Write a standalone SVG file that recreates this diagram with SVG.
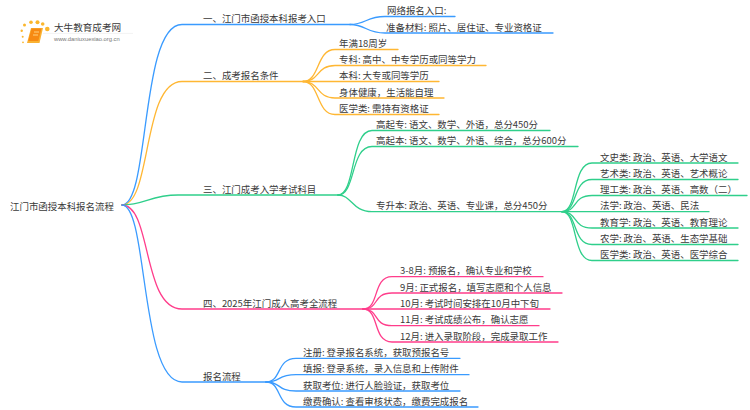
<svg xmlns="http://www.w3.org/2000/svg" width="750" height="410" viewBox="0 0 750 410">
<style>
text{font-family:"Noto Sans CJK SC","Liberation Sans",sans-serif;font-size:9.45px;fill:#3a3a3a}
.c{fill:none;stroke-width:1.3;stroke-linecap:round}
.b{stroke:#3a9bff}.o{stroke:#ffb733}.g{stroke:#2fcf8b}.p{stroke:#ff3d8b}
.s{fill:#fbb62c}
</style>
<rect width="750" height="410" fill="#fff"/>
<g id="logo">
<g class="s"><circle cx="21.700" cy="30.700" r="1.200"/><circle cx="24.500" cy="25" r="1.500"/><circle cx="31" cy="22.300" r="1.800"/><circle cx="37.500" cy="22.300" r="2"/><circle cx="42.700" cy="24" r="1.800"/><circle cx="47.300" cy="29" r="2.300"/><circle cx="22.700" cy="36.700" r="1"/><circle cx="23" cy="42.300" r="0.900"/></g>
<path d="M31 28h12l-3.500 15h-12.500z" fill="#f9b233"/><path d="M31.500 28.500h10l-3.200 12.500h-10z" fill="#f78a12"/><path d="M34 32h5M33 35h5" stroke="#ffd98a" stroke-width="0.900" fill="none"/>
<line x1="43" y1="33.400" x2="133" y2="33.400" stroke="#eeeeee" stroke-width="0.700"/>
<text x="54" y="31" style="font-size:9.6px">大牛教育成考网</text>
<text x="54" y="40.800" style="font-size:5.800px;fill:#777;font-family:'Liberation Sans',sans-serif">www.daniuxuexiao.org.cn</text>
</g>
<g id="connectors">
<path class="c b" d="M122 205C150 205 140 24.500 182 24.500L350 24.500"/>
<path class="c o" d="M122 205C152 205 142 81.500 182 81.500L303 81.500"/>
<path class="c g" d="M122 205C145 205 150 195 178 195L338 195"/>
<path class="c p" d="M122 205C152 205 142 309 182 309L363 309"/>
<path class="c b" d="M122 205C148 205 140 382 182 382L266 382"/>
<path class="c b" d="M350 24.500C366 24.500 366 16.500 385 16.500L455 16.500"/>
<path class="c b" d="M350 24.500C366 24.500 366 33 385 33L553 33"/>
<path class="c o" d="M303 81.500C320 81.500 316 49.500 335 49.500L398 49.500"/>
<path class="c o" d="M303 81.500C320 81.500 316 65.500 335 65.500L486 65.500"/>
<path class="c o" d="M303 81.500L439 81.500"/>
<path class="c o" d="M303 81.500C320 81.500 316 98 335 98L444 98"/>
<path class="c o" d="M303 81.500C320 81.500 316 114.500 335 114.500L439 114.500"/>
<path class="c g" d="M338 195C356 195 350 130.500 372 130.500L550 130.500"/>
<path class="c g" d="M338 195C356 195 350 146.500 372 146.500L578 146.500"/>
<path class="c g" d="M338 195C352 195 352 211.700 372 211.700L562 211.700"/>
<path class="c g" d="M562 211.700C578 211.700 572 163 592 163L738 163"/>
<path class="c g" d="M562 211.700C578 211.700 572 179.500 592 179.500L738 179.500"/>
<path class="c g" d="M562 211.700C578 211.700 572 195.500 592 195.500L747 195.500"/>
<path class="c g" d="M562 211.700L709 211.700"/>
<path class="c g" d="M562 211.700C578 211.700 572 228 592 228L738 228"/>
<path class="c g" d="M562 211.700C578 211.700 572 244.500 592 244.500L738 244.500"/>
<path class="c g" d="M562 211.700C578 211.700 572 260.500 592 260.500L738 260.500"/>
<path class="c p" d="M363 309C380 309 372 276.700 392 276.700L543 276.700"/>
<path class="c p" d="M363 309C380 309 372 293 392 293L562 293"/>
<path class="c p" d="M363 309L550 309"/>
<path class="c p" d="M363 309C380 309 372 325.700 392 325.700L539 325.700"/>
<path class="c p" d="M363 309C380 309 372 342 392 342L558 342"/>
<path class="c b" d="M266 382C282 382 276 358.300 296 358.300L460 358.300"/>
<path class="c b" d="M266 382C282 382 276 374.700 296 374.700L469 374.700"/>
<path class="c b" d="M266 382C282 382 276 391 296 391L460 391"/>
<path class="c b" d="M266 382C282 382 276 407 296 407L478 407"/>
</g>
<g id="root"><text x="10" y="209.500">江门市函授本科报名流程</text></g>
<g id="n1"><text x="203" y="22">一、江门市函授本科报考入口</text></g>
<g id="n1-1"><text x="387" y="14">网络报名入口:</text></g>
<g id="n1-2"><text x="386" y="30.500">准备材料: 照片、居住证、专业资格证</text></g>
<g id="n2"><text x="203" y="79">二、成考报名条件</text></g>
<g id="n2-1"><text x="339" y="47">年满18周岁</text></g>
<g id="n2-2"><text x="339" y="63">专科: 高中、中专学历或同等学力</text></g>
<g id="n2-3"><text x="339" y="79">本科: 大专或同等学历</text></g>
<g id="n2-4"><text x="339" y="95.500">身体健康，生活能自理</text></g>
<g id="n2-5"><text x="339" y="112">医学类: 需持有资格证</text></g>
<g id="n3"><text x="203" y="192.500">三、江门成考入学考试科目</text></g>
<g id="n3-1"><text x="376" y="128">高起专: 语文、数学、外语，总分450分</text></g>
<g id="n3-2"><text x="376" y="144">高起本: 语文、数学、外语、综合，总分600分</text></g>
<g id="n3-3"><text x="376" y="209.200">专升本: 政治、英语、专业课，总分450分</text></g>
<g id="n3-3-1"><text x="600" y="160.500">文史类: 政治、英语、大学语文</text></g>
<g id="n3-3-2"><text x="600" y="177">艺术类: 政治、英语、艺术概论</text></g>
<g id="n3-3-3"><text x="600" y="193">理工类: 政治、英语、高数（二）</text></g>
<g id="n3-3-4"><text x="600" y="209.200">法学: 政治、英语、民法</text></g>
<g id="n3-3-5"><text x="600" y="225.500">教育学: 政治、英语、教育理论</text></g>
<g id="n3-3-6"><text x="600" y="242">农学: 政治、英语、生态学基础</text></g>
<g id="n3-3-7"><text x="600" y="258">医学类: 政治、英语、医学综合</text></g>
<g id="n4"><text x="203" y="306.500">四、2025年江门成人高考全流程</text></g>
<g id="n4-1"><text x="400" y="274.200">3-8月: 预报名，确认专业和学校</text></g>
<g id="n4-2"><text x="400" y="290.500">9月: 正式报名，填写志愿和个人信息</text></g>
<g id="n4-3"><text x="400" y="306.500">10月: 考试时间安排在10月中下旬</text></g>
<g id="n4-4"><text x="400" y="323.200">11月: 考试成绩公布，确认志愿</text></g>
<g id="n4-5"><text x="400" y="339.500">12月: 进入录取阶段，完成录取工作</text></g>
<g id="n5"><text x="203" y="379.500">报名流程</text></g>
<g id="n5-1"><text x="303" y="355.800">注册: 登录报名系统，获取预报名号</text></g>
<g id="n5-2"><text x="303" y="372.200">填报: 登录系统，录入信息和上传附件</text></g>
<g id="n5-3"><text x="303" y="388.500">获取考位: 进行人脸验证，获取考位</text></g>
<g id="n5-4"><text x="303" y="404.500">缴费确认: 查看审核状态，缴费完成报名</text></g>
</svg>
